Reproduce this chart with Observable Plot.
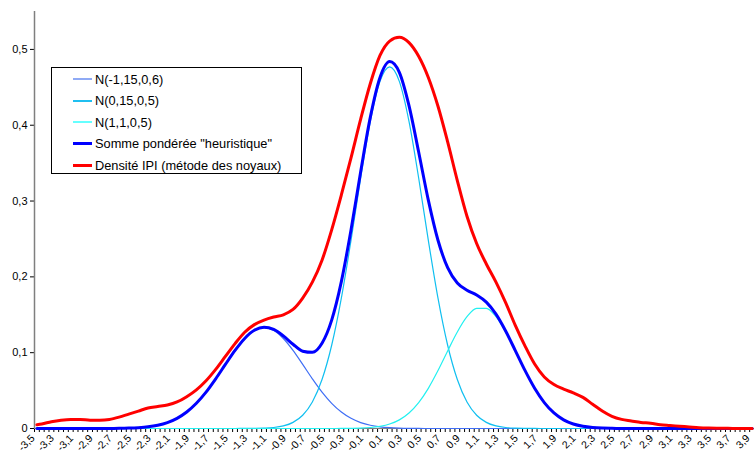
<!DOCTYPE html>
<html>
<head>
<meta charset="utf-8">
<script src="https://cdn.jsdelivr.net/npm/d3@7"></script>
<script src="https://cdn.jsdelivr.net/npm/@observablehq/plot@0.6"></script>
<style>
  html, body { margin: 0; padding: 0; background: #fff; }
  #wrap { position: relative; width: 754px; height: 459px; font-family: "Liberation Sans", Arial, sans-serif; }
  #legend { position: absolute; left: 51px; top: 67px; width: 251px; height: 107px; box-sizing: border-box;
            border: 1px solid #000; background: #fff; }
  .row { position: absolute; left: 0; height: 20px; display: flex; align-items: center; font-size: 12.8px; color: #000; white-space: nowrap; }
  .sw { width: 19px; margin-left: 21px; margin-right: 3px; }
</style>
</head>
<body>
<div id="wrap"><div id="chart"></div><div id="legend"></div></div>
<script>
// x positions of the sampled curves
const xs = [-3.5, -3.45, -3.35, -3.25, -3.15, -3.05, -2.95, -2.85, -2.75, -2.65,
  -2.55, -2.45, -2.35, -2.25, -2.15, -2.05, -1.95, -1.85, -1.75, -1.65,
  -1.55, -1.45, -1.35, -1.25, -1.15, -1.05, -0.95, -0.85, -0.75, -0.65,
  -0.55, -0.45, -0.35, -0.25, -0.15, -0.05, 0.05, 0.15, 0.25, 0.35,
  0.45, 0.55, 0.65, 0.75, 0.85, 0.95, 1.05, 1.15, 1.25, 1.35,
  1.45, 1.55, 1.65, 1.75, 1.85, 1.95, 2.05, 2.15, 2.25, 2.35,
  2.45, 2.55, 2.65, 2.75, 2.85, 2.95, 3.05, 3.15, 3.25, 3.35,
  3.45, 3.55, 3.65, 3.75, 3.85, 3.9];

// N(-1,15,0,6)
const compLeft = [0, 0, 0, 0, 0, 0, 0, 0, 0.0001, 0.0002,
  0.0005, 0.0011, 0.0022, 0.0043, 0.0078, 0.0134, 0.0217, 0.0332, 0.0479, 0.0655,
  0.0845, 0.1030, 0.1187, 0.1293, 0.1330, 0.1293, 0.1187, 0.1030, 0.0845, 0.0655,
  0.0479, 0.0332, 0.0217, 0.0134, 0.0078, 0.0043, 0.0022, 0.0011, 0.0005, 0.0002,
  0.0001, 0, 0, 0, 0, 0, 0, 0, 0, 0,
  0, 0, 0, 0, 0, 0, 0, 0, 0, 0,
  0, 0, 0, 0, 0, 0, 0, 0, 0, 0,
  0, 0, 0, 0, 0, 0];

// N(0,15,0,5)
const compMid = [0, 0, 0, 0, 0, 0, 0, 0, 0, 0,
  0, 0, 0, 0, 0, 0, 0, 0, 0, 0,
  0, 0, 0.0001, 0.0002, 0.0005, 0.0013, 0.0034, 0.0081, 0.0175, 0.0350,
  0.0646, 0.1098, 0.1719, 0.2482, 0.3304, 0.4051, 0.4579, 0.4770, 0.4579, 0.4051,
  0.3304, 0.2482, 0.1719, 0.1098, 0.0646, 0.0350, 0.0175, 0.0081, 0.0034, 0.0013,
  0.0005, 0.0002, 0.0001, 0, 0, 0, 0, 0, 0, 0,
  0, 0, 0, 0, 0, 0, 0, 0, 0, 0,
  0, 0, 0, 0, 0, 0];

// N(1,1,0,5)
const compRight = [0, 0, 0, 0, 0, 0, 0, 0, 0, 0,
  0, 0, 0, 0, 0, 0, 0, 0, 0, 0,
  0, 0, 0, 0, 0, 0, 0, 0, 0, 0,
  0, 0, 0.0001, 0.0002, 0.0005, 0.0013, 0.0029, 0.0059, 0.0114, 0.0205,
  0.0342, 0.0530, 0.0764, 0.1023, 0.1273, 0.1474, 0.1585, 0.1585, 0.1474, 0.1273,
  0.1023, 0.0764, 0.0530, 0.0342, 0.0205, 0.0114, 0.0059, 0.0029, 0.0013, 0.0005,
  0.0002, 0.0001, 0, 0, 0, 0, 0, 0, 0, 0,
  0, 0, 0, 0, 0, 0];

// Somme pondérée "heuristique"
const sumHeur = [0, 0, 0, 0, 0, 0, 0, 0, 0.0001, 0.0002,
  0.0005, 0.0011, 0.0022, 0.0043, 0.0078, 0.0134, 0.0217, 0.0332, 0.0479, 0.0655,
  0.0845, 0.1030, 0.1188, 0.1295, 0.1335, 0.1306, 0.1221, 0.1111, 0.1020, 0.1005,
  0.1125, 0.1430, 0.1937, 0.2618, 0.3387, 0.4107, 0.4630, 0.4840, 0.4698, 0.4258,
  0.3647, 0.3012, 0.2483, 0.2121, 0.1919, 0.1824, 0.1760, 0.1666, 0.1508, 0.1286,
  0.1028, 0.0766, 0.0531, 0.0342, 0.0205, 0.0114, 0.0059, 0.0029, 0.0013, 0.0005,
  0.0002, 0.0001, 0, 0, 0, 0, 0, 0, 0, 0,
  0, 0, 0, 0, 0, 0];

// Densité IPI (métode des noyaux)
const kdeIPI = [0.005, 0.006, 0.009, 0.011, 0.012, 0.012, 0.011, 0.011, 0.012, 0.015,
  0.019, 0.023, 0.027, 0.029, 0.031, 0.035, 0.042, 0.051, 0.063, 0.078,
  0.095, 0.112, 0.127, 0.137, 0.143, 0.147, 0.150, 0.157, 0.172, 0.193,
  0.222, 0.262, 0.308, 0.357, 0.408, 0.455, 0.492, 0.511, 0.516, 0.509,
  0.491, 0.463, 0.425, 0.378, 0.327, 0.280, 0.244, 0.217, 0.193, 0.166,
  0.136, 0.109, 0.085, 0.068, 0.058, 0.052, 0.047, 0.041, 0.032, 0.023,
  0.016, 0.012, 0.010, 0.008, 0.007, 0.005, 0.004, 0.003, 0.002, 0.001,
  0.0005, 0.0003, 0.0002, 0.0001, 0, 0];

const seriesNames = ["N(-1,15,0,6)", "N(0,15,0,5)", "N(1,1,0,5)",
  "Somme pondérée \"heuristique\"", "Densité IPI (métode des noyaux)"];
const seriesValues = [compLeft, compMid, compRight, sumHeur, kdeIPI];
const seriesColors = ["#3f6ef5", "#10bff0", "#22f0f0", "#0000ff", "#ff0000"];
const seriesWidths = [1.2, 1.2, 1.2, 3, 3];
const legendColors = ["#8faaf5", "#20bff0", "#66ffff", "#0000ff", "#ff0000"];

const yTicks = [0, 0.1, 0.2, 0.3, 0.4, 0.5];
const xLabelValues = [-3.5, -3.3, -3.1, -2.9, -2.7, -2.5, -2.3, -2.1, -1.9, -1.7,
  -1.5, -1.3, -1.1, -0.9, -0.7, -0.5, -0.3, -0.1, 0.1, 0.3,
  0.5, 0.7, 0.9, 1.1, 1.3, 1.5, 1.7, 1.9, 2.1, 2.3,
  2.5, 2.7, 2.9, 3.1, 3.3, 3.5, 3.7, 3.9];

const xDomain = [-3.525, 3.925];
const yDomain = [0, 0.55];
const tickStep = 0.05;
const tickPositions = d3.range(0, Math.round((xDomain[1] - xDomain[0]) / tickStep) + 1)
  .map(k => xDomain[0] + k * tickStep);

const fmt1 = d => d3.format(".1f")(d).replace("−", "-").replace(".", ",");
const fmtY = d => d === 0 ? "0" : fmt1(d);

const table = [];
seriesNames.forEach((name, s) => {
  xs.forEach((x, i) => table.push({series: name, x, y: seriesValues[s][i]}));
});

const lineMarks = seriesNames.map((name, s) =>
  Plot.line(table.filter(d => d.series === name), {
    x: "x", y: "y", stroke: seriesColors[s], strokeWidth: seriesWidths[s], curve: "monotone-x"
  })
);

const chart = Plot.plot({
  width: 754,
  height: 459,
  marginLeft: 34,
  marginRight: 0,
  marginTop: 11,
  marginBottom: 31,
  style: {fontFamily: "'Liberation Sans', Arial, sans-serif", background: "#fff", color: "#000"},
  x: {domain: xDomain, label: null},
  y: {domain: yDomain, label: null},
  marks: [
    Plot.axisX({ticks: tickPositions, tickSize: 4, tickFormat: () => "", stroke: "#000", label: null}),
    Plot.axisX({ticks: xLabelValues, tickSize: 0, tickPadding: 8, tickRotate: -45, tickFormat: fmt1, fontSize: 10.5, dx: -4, label: null}),
    Plot.axisY({ticks: yTicks, tickSize: 4, tickPadding: 3, tickFormat: fmtY, fontSize: 11, stroke: "#000", label: null}),
    Plot.ruleX([xDomain[0]], {y1: yDomain[0], y2: yDomain[1], stroke: "#7f7f7f", strokeWidth: 1.5}),
    Plot.ruleY([0], {stroke: "#7f7f7f"}),
    ...lineMarks
  ]
});
document.getElementById("chart").appendChild(chart);

const legend = document.getElementById("legend");
seriesNames.forEach((name, s) => {
  const row = document.createElement("div");
  row.className = "row";
  row.style.top = (1 + s * 21.5) + "px";
  const sw = document.createElement("div");
  sw.className = "sw";
  sw.style.height = "0px";
  sw.style.borderTop = (s >= 3 ? 3 : 2) + "px solid " + legendColors[s];
  row.appendChild(sw);
  const t = document.createElement("span");
  t.textContent = name;
  row.appendChild(t);
  legend.appendChild(row);
});
</script>
</body>
</html>
